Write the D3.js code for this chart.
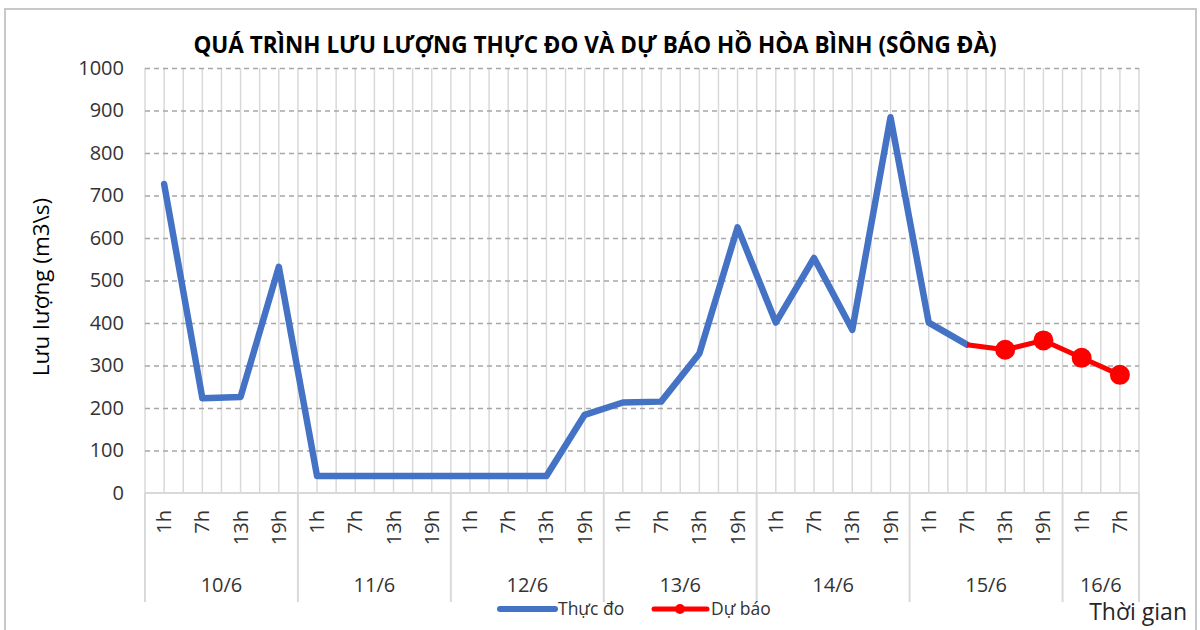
<!DOCTYPE html>
<html>
<head>
<meta charset="utf-8">
<script src="https://cdn.jsdelivr.net/npm/d3@7"></script>
<style>
  body { margin: 0; background: #fff; }
  svg { display: block; font-family: "Open Sans", "Noto Sans", sans-serif; }
</style>
</head>
<body>
<svg id="chart" width="1200" height="630"></svg>
<script>
// data
var days = ["10/6", "11/6", "12/6", "13/6", "14/6", "15/6", "16/6"];
var hours = ["1h", "7h", "13h", "19h"];
var slotsPerDay = [4, 4, 4, 4, 4, 4, 2];
var observed = [727, 223, 226, 532, 40, 40, 40, 40, 40, 40, 40, 184,
                213, 215, 328, 625, 401, 553, 384, 884, 401, 349];
var forecastStart = 21;
var forecast = [349, 337, 359, 318, 278];
var yTicks = [0, 100, 200, 300, 400, 500, 600, 700, 800, 900, 1000];

var title = "QUÁ TRÌNH LƯU LƯỢNG THỰC ĐO VÀ DỰ BÁO HỒ HÒA BÌNH (SÔNG ĐÀ)";
var yTitle = "Lưu lượng (m3\\s)";
var xTitle = "Thời gian";
var seriesNames = ["Thực đo", "Dự báo"];

var blue = "#4472c4", red = "#ff0000";

// category list
var cats = [];
days.forEach(function(d, di) {
    for (var k = 0; k < slotsPerDay[di]; k++) cats.push({ day: d, hour: hours[k], di: di });
});

var svg = d3.select("#chart");
var plotL = 145, plotR = 1139, plotT = 68, plotB = 493;

var x = d3.scaleLinear().domain([0, cats.length]).range([plotL, plotR]);
var y = d3.scaleLinear().domain([0, 1000]).range([plotB, plotT]);

// chart border
svg.append("rect").attr("x", 5).attr("y", 9).attr("width", 1191).attr("height", 640)
    .attr("fill", "none").attr("stroke", "#c8c8c8").attr("stroke-width", 2);

// vertical grid (boundaries + centers)
svg.append("g").selectAll("line")
    .data(d3.range(0, cats.length + 0.01, 0.5))
    .join("line")
    .attr("x1", function(d) { return x(d); }).attr("x2", function(d) { return x(d); })
    .attr("y1", plotT).attr("y2", plotB)
    .attr("stroke", "#d9d9d9").attr("stroke-width", 1.5);

// horizontal dashed grid + y labels
var yAxis = svg.append("g").attr("transform", "translate(" + plotL + ",0)")
    .call(d3.axisLeft(y).tickValues(yTicks).tickFormat(d3.format("d"))
        .tickSize(-(plotR - plotL)).tickPadding(21));
yAxis.select(".domain").remove();
yAxis.selectAll(".tick line")
    .attr("stroke", function(d) { return d === 0 ? "none" : "#a6a6a6"; })
    .attr("stroke-width", 1.3).attr("stroke-dasharray", "5,4");
yAxis.selectAll(".tick text")
    .attr("font-size", 20).attr("fill", "#333").attr("font-family", "Open Sans");

// x axis line
svg.append("line").attr("x1", plotL).attr("x2", plotR).attr("y1", plotB).attr("y2", plotB)
    .attr("stroke", "#d9d9d9").attr("stroke-width", 2);

// day separators below axis
var bounds = [0];
slotsPerDay.reduce(function(acc, n) { bounds.push(acc + n); return acc + n; }, 0);
svg.append("g").selectAll("line").data(bounds).join("line")
    .attr("x1", function(d) { return x(d); }).attr("x2", function(d) { return x(d); })
    .attr("y1", plotB).attr("y2", 602)
    .attr("stroke", "#d9d9d9").attr("stroke-width", 2);

// hour labels (rotated)
svg.append("g").selectAll("text").data(cats).join("text")
    .attr("transform", function(d, i) { return "translate(" + (x(i + 0.5) + 7) + ",510) rotate(-90)"; })
    .attr("text-anchor", "end")
    .attr("font-size", 20).attr("fill", "#333")
    .text(function(d) { return d.hour; });

// day labels
svg.append("g").selectAll("text").data(days).join("text")
    .attr("x", function(d, i) { return (x(bounds[i]) + x(bounds[i + 1])) / 2; })
    .attr("y", 592)
    .attr("text-anchor", "middle")
    .attr("font-size", 20).attr("fill", "#333")
    .text(function(d) { return d; });

// observed line
var line = d3.line()
    .x(function(d) { return x(d.i + 0.5); })
    .y(function(d) { return y(d.v); });

var obsPts = observed.map(function(v, i) { return { i: i, v: v }; });
var fcPts = forecast.map(function(v, k) { return { i: forecastStart + k, v: v }; });

svg.append("path").datum(obsPts).attr("d", line)
    .attr("fill", "none").attr("stroke", blue).attr("stroke-width", 6.5)
    .attr("stroke-linejoin", "round").attr("stroke-linecap", "round");

svg.append("path").datum(fcPts).attr("d", line)
    .attr("fill", "none").attr("stroke", red).attr("stroke-width", 5)
    .attr("stroke-linejoin", "round");

svg.append("g").selectAll("circle").data(fcPts.slice(1)).join("circle")
    .attr("cx", function(d) { return x(d.i + 0.5); })
    .attr("cy", function(d) { return y(d.v); })
    .attr("r", 10).attr("fill", red);

// title
svg.append("text").attr("x", 595).attr("y", 53).attr("text-anchor", "middle")
    .attr("font-size", 22.5).attr("font-weight", "bold").attr("fill", "#000")
    .text(title);

// y title
svg.append("text").attr("transform", "translate(49,287) rotate(-90)")
    .attr("text-anchor", "middle").attr("font-size", 22.5).attr("fill", "#000")
    .text(yTitle);

// x title
svg.append("text").attr("x", 1187).attr("y", 620).attr("text-anchor", "end")
    .attr("font-size", 23).attr("fill", "#262626")
    .text(xTitle);

// legend
var lg = svg.append("g").attr("font-size", 17.5).attr("fill", "#333");
lg.append("line").attr("x1", 500).attr("x2", 555).attr("y1", 609).attr("y2", 609)
    .attr("stroke", blue).attr("stroke-width", 6).attr("stroke-linecap", "round");
lg.append("text").attr("x", 558).attr("y", 615).text(seriesNames[0]);
lg.append("line").attr("x1", 654).attr("x2", 707).attr("y1", 609).attr("y2", 609)
    .attr("stroke", red).attr("stroke-width", 5).attr("stroke-linecap", "round");
lg.append("circle").attr("cx", 680).attr("cy", 609).attr("r", 5).attr("fill", red);
lg.append("text").attr("x", 711).attr("y", 615).text(seriesNames[1]);
</script>
</body>
</html>
